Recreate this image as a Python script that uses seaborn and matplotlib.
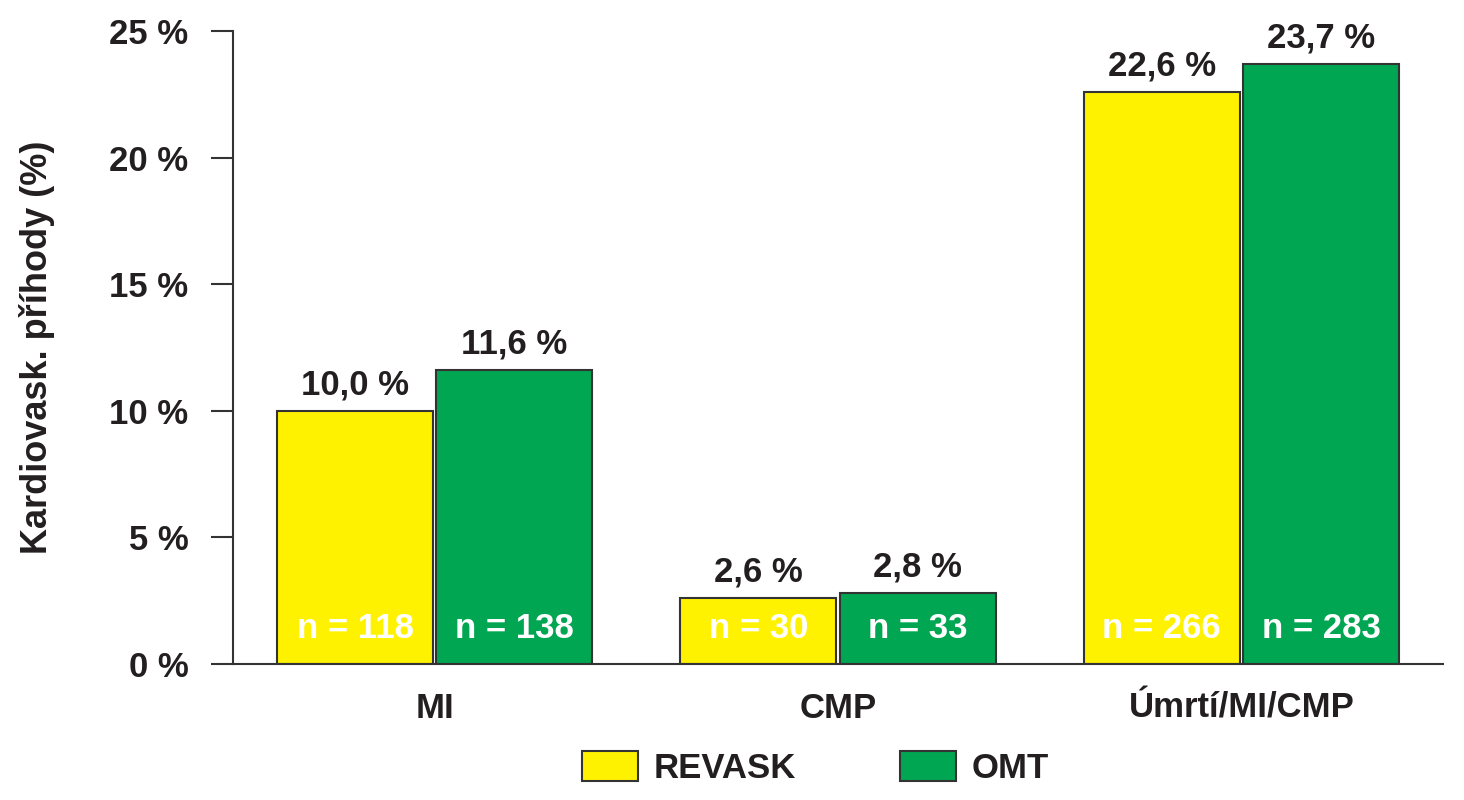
import pandas as pd
import numpy as np
import matplotlib
matplotlib.use('Agg')
import matplotlib.pyplot as plt
import seaborn as sns

# data
kategorie = ['MI', 'CMP', 'Úmrtí/MI/CMP']
skupiny = ['REVASK', 'OMT']
revask = [10.0, 2.6, 22.6]
omt = [11.6, 2.8, 23.7]
n_revask = [118, 30, 266]
n_omt = [138, 33, 283]
yticks = [0, 5, 10, 15, 20, 25]

barvy = ['#FFF200', '#00A651']
tmava = '#333333'

sns.set_theme(style='white')
plt.rcParams['font.family'] = ['Liberation Sans', 'DejaVu Sans']
plt.rcParams['font.weight'] = 'bold'

df = pd.DataFrame({
    'kategorie': kategorie * 2,
    'skupina': [skupiny[0]] * 3 + [skupiny[1]] * 3,
    'hodnota': revask + omt,
})

fig = plt.figure(figsize=(14.64, 8), dpi=100)
ax = fig.add_axes([0.1592, 0.17, 0.8265, 0.79125])

sns.barplot(data=df, x='kategorie', y='hodnota', hue='skupina', order=kategorie,
            hue_order=skupiny, palette=barvy, saturation=1, edgecolor=tmava,
            linewidth=1.5, width=0.79, gap=0.02, ax=ax, legend=False)

# popisky nad sloupci a n uvnitr
pocty = [n_revask, n_omt]
for cont, hodn, nn in zip(ax.containers, [revask, omt], pocty):
    for bar, v, n in zip(cont, hodn, nn):
        cx = bar.get_x() + bar.get_width() / 2
        ax.annotate(f'{v:.1f} %'.replace('.', ','), (cx, bar.get_height()),
                    xytext=(0, 12), textcoords='offset points', ha='center',
                    va='baseline', fontsize=25, fontweight='bold', color='#231F20')
        ax.text(cx, 1.03, f'n = {n}', ha='center', va='baseline', fontsize=25,
                fontweight='bold', color='white')

ax.set_ylim(0, 25)
ax.set_xlim(-0.5, 2.5)
ax.set_yticks(yticks)
ax.set_yticklabels([f'{t} %' for t in yticks])
ax.set_xticks(range(3))
ax.set_xticklabels(kategorie)
ax.set_xticks([-0.5, 0.5, 1.5, 2.5], minor=True)
ax.tick_params(axis='x', which='major', length=0, pad=20, labelsize=25, labelcolor='#231F20')
ax.tick_params(axis='x', which='minor', length=11.5, width=1.5, color=tmava, direction='out')
ax.tick_params(axis='y', length=16, width=1.5, color=tmava, pad=16, labelsize=25,
               labelcolor='#231F20', direction='out', left=True)
for lab in ax.get_xticklabels() + ax.get_yticklabels():
    lab.set_fontweight('bold')

sns.despine(ax=ax)
for s in ['left', 'bottom']:
    ax.spines[s].set_color(tmava)
    ax.spines[s].set_linewidth(1.5)

ax.set_xlabel('')
ax.set_ylabel('Kardiovask. příhody (%)', fontsize=26, fontweight='bold', color='#231F20')
ax.yaxis.set_label_coords(-0.147, 0.5)

handles = [plt.Rectangle((0, 0), 1, 1, facecolor=c, edgecolor=tmava, linewidth=1.5) for c in barvy]
fig.legend(handles, skupiny, loc='center', bbox_to_anchor=(0.557, 0.04), ncol=2,
           frameon=False, handlelength=1.6, handleheight=0.95,
           handletextpad=0.45, columnspacing=3.0, labelcolor='#231F20',
           prop={'weight': 'bold', 'size': 25})

fig.savefig('out.png', dpi=100)
